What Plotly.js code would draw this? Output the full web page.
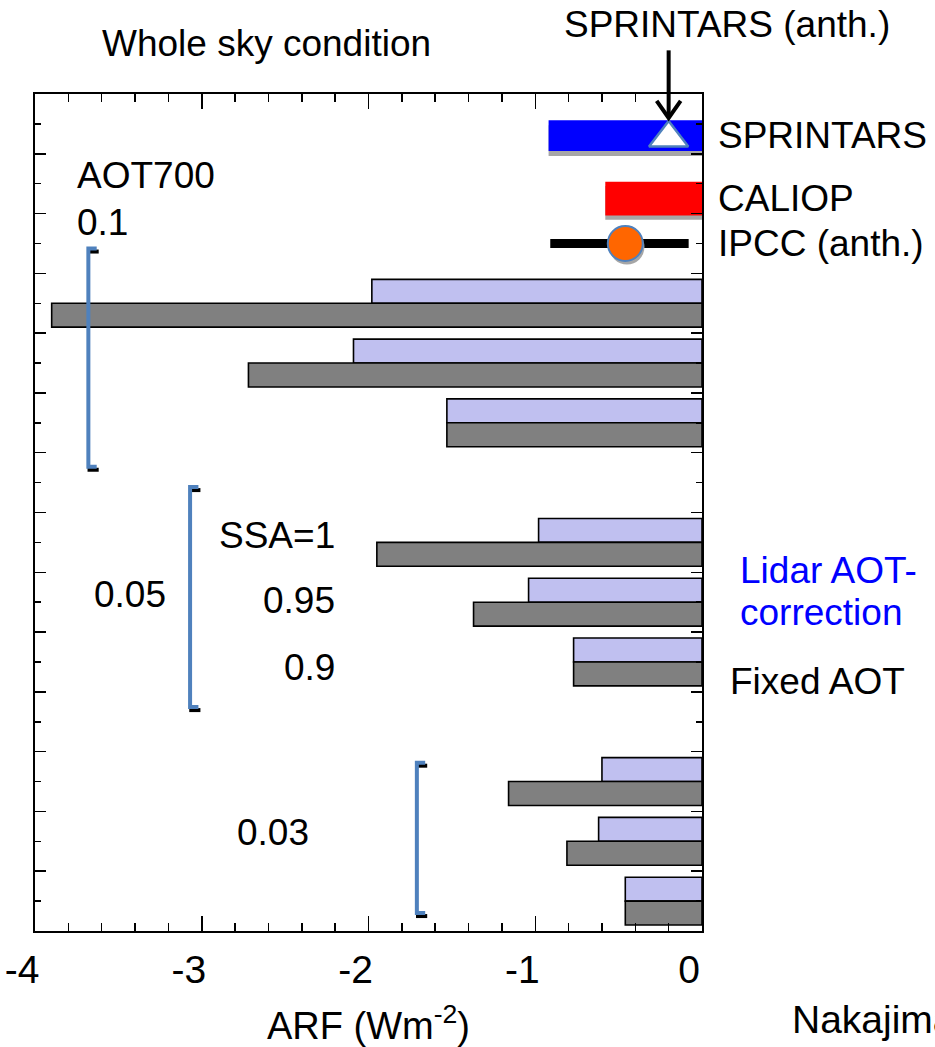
<!DOCTYPE html>
<html>
<head>
<meta charset="utf-8">
<script src="https://cdn.plot.ly/plotly-3.0.1.min.js"></script>
<style>
  html, body { margin: 0; padding: 0; background: #fff; }
  #chart { width: 935px; height: 1047px; }
</style>
</head>
<body>
<div id="chart"></div>
<script>
// Aerosol radiative forcing (ARF, W m-2), whole sky condition.
// Each case: pair of bars at a row position (lidar AOT-correction above, fixed AOT below).
const rowPos        = [21, 19, 17, 13, 11, 9, 5, 3, 1];
const lidarCorrARF  = [-1.98, -2.09, -1.53, -0.98, -1.04, -0.77, -0.60, -0.62, -0.46];
const fixedAotARF   = [-3.90, -2.72, -1.53, -1.95, -1.37, -0.77, -1.16, -0.81, -0.46];

// Reference estimates
const sprintarsLow = -0.92, sprintarsHigh = 0, sprintarsRow = 26.61;
const caliopLow = -0.58, caliopHigh = 0, caliopRow = 24.5;
const ipccLow = -0.91, ipccHigh = -0.08, ipccBest = -0.46, ipccRow = 23;
const sprintarsAnth = -0.2;

// Group brackets (AOT700 = 0.1, 0.05, 0.03)
const bracketX      = [-3.68, -3.07, -1.71];
const bracketTop    = [22.83, 14.85, 5.63];
const bracketBottom = [15.53, 7.49, 0.60];

const xTickVals = [-4, -3, -2, -1, 0];
const xTickText = ['-4', '-3', '-2', '-1', '0'];

const X_RANGE = [-4, 0], Y_RANGE = [0, 28];
const paperX = v => (v - X_RANGE[0]) / (X_RANGE[1] - X_RANGE[0]);
const paperY = v => (v - Y_RANGE[0]) / (Y_RANGE[1] - Y_RANGE[0]);

const FONT = 'Liberation Sans, Arial, Helvetica, sans-serif';
const BRACKET_BLUE = '#4f81bd';
const BAR_H = 0.8;

const traces = [];

// drop shadows behind the reference bars
traces.push({
  type: 'bar', orientation: 'h',
  x: [sprintarsLow - sprintarsHigh, caliopLow - caliopHigh],
  base: [sprintarsHigh, caliopHigh],
  y: [sprintarsRow - 0.17, caliopRow - 0.14],
  width: [1.03, 1.13], offset: [-0.515, -0.565],
  marker: { color: '#a6a6a6', line: { width: 0 } },
  hoverinfo: 'skip'
});
traces.push({
  type: 'bar', orientation: 'h',
  x: [sprintarsLow - sprintarsHigh],
  base: [sprintarsHigh],
  y: [sprintarsRow], width: [1.03], offset: [-0.515],
  marker: { color: '#0000ff', line: { width: 0 } }, name: 'SPRINTARS'
});
traces.push({
  type: 'bar', orientation: 'h',
  x: [caliopLow - caliopHigh],
  base: [caliopHigh],
  y: [caliopRow], width: [1.13], offset: [-0.565],
  marker: { color: '#ff0000', line: { width: 0 } }, name: 'CALIOP'
});

// case bars
traces.push({
  type: 'bar', orientation: 'h', x: lidarCorrARF, y: rowPos,
  width: BAR_H, offset: 0,
  marker: { color: '#c0c0f0', line: { color: '#000', width: 1.6 } },
  name: 'Lidar AOT-correction'
});
traces.push({
  type: 'bar', orientation: 'h', x: fixedAotARF, y: rowPos,
  width: BAR_H, offset: -BAR_H,
  marker: { color: '#808080', line: { color: '#000', width: 1.6 } },
  name: 'Fixed AOT'
});

// IPCC range and best estimate
traces.push({
  type: 'scatter', mode: 'lines', x: [ipccLow, ipccHigh], y: [ipccRow, ipccRow],
  line: { color: '#000', width: 9 }, hoverinfo: 'skip'
});
traces.push({
  type: 'scatter', mode: 'markers', x: [ipccBest + 0.01], y: [ipccRow - 0.12],
  marker: { size: 35, color: '#a6a6a6', line: { width: 0 } }, hoverinfo: 'skip'
});
traces.push({
  type: 'scatter', mode: 'markers', x: [ipccBest], y: [ipccRow],
  marker: { size: 35, color: '#ff6600', line: { color: BRACKET_BLUE, width: 2 } },
  name: 'IPCC (anth.)'
});

// SPRINTARS anthropogenic estimate
traces.push({
  type: 'scatter', mode: 'markers', x: [sprintarsAnth], y: [sprintarsRow - 0.08],
  marker: { symbol: 'triangle-up', size: 34, color: '#ffffff', line: { color: BRACKET_BLUE, width: 2.5 } },
  name: 'SPRINTARS (anth.)'
});

// brackets grouping the cases by AOT
const serif = 0.05;
bracketX.forEach((bx, i) => {
  const t = bracketTop[i], b = bracketBottom[i];
  traces.push({
    type: 'scatter', mode: 'lines',
    x: [bx - 0.005, bx + serif + 0.012, null, bx - 0.005, bx + serif + 0.012],
    y: [t - 0.1, t - 0.1, null, b - 0.1, b - 0.1],
    line: { color: '#000', width: 4 }, hoverinfo: 'skip'
  });
  traces.push({
    type: 'scatter', mode: 'lines',
    x: [bx + serif, bx, bx, bx + serif],
    y: [t, t, b, b],
    line: { color: BRACKET_BLUE, width: 4 }, hoverinfo: 'skip'
  });
});

const ax = paperX(sprintarsAnth);
const tipY = paperY(27.2);
const dxp = 12 / 667, dyp = 17 / 837;

const annotations = [
  { text: 'Whole sky condition', xref: 'paper', yref: 'paper', x: 0.347, y: 1.06, xanchor: 'center', font: { size: 37 } },
  { text: 'SPRINTARS (anth.)', xref: 'paper', yref: 'paper', x: 1.038, y: 1.083, xanchor: 'center', font: { size: 37 } },
  { text: 'SPRINTARS', xref: 'paper', yref: 'y', x: 1.021, y: sprintarsRow, xanchor: 'left', font: { size: 37 } },
  { text: 'CALIOP', xref: 'paper', yref: 'y', x: 1.021, y: caliopRow, xanchor: 'left', font: { size: 37 } },
  { text: 'IPCC (anth.)', xref: 'paper', yref: 'y', x: 1.021, y: ipccRow, xanchor: 'left', font: { size: 37 } },
  { text: 'AOT700', xref: 'x', yref: 'y', x: -3.76, y: 25.26, xanchor: 'left', font: { size: 37 } },
  { text: '0.1', xref: 'x', yref: 'y', x: -3.76, y: 23.7, xanchor: 'left', font: { size: 37 } },
  { text: '0.05', xref: 'x', yref: 'y', x: -3.66, y: 11.26, xanchor: 'left', font: { size: 37 } },
  { text: 'SSA=1', xref: 'x', yref: 'y', x: -2.19, y: 13.24, xanchor: 'right', font: { size: 37 } },
  { text: '0.95', xref: 'x', yref: 'y', x: -2.19, y: 11.07, xanchor: 'right', font: { size: 37 } },
  { text: '0.9', xref: 'x', yref: 'y', x: -2.19, y: 8.8, xanchor: 'right', font: { size: 37 } },
  { text: '0.03', xref: 'x', yref: 'y', x: -2.80, y: 3.28, xanchor: 'left', font: { size: 37 } },
  { text: 'Lidar AOT-', xref: 'paper', yref: 'y', x: 1.054, y: 12.07, xanchor: 'left', font: { size: 37, color: '#0000ff' } },
  { text: 'correction', xref: 'paper', yref: 'y', x: 1.054, y: 10.67, xanchor: 'left', font: { size: 37, color: '#0000ff' } },
  { text: 'Fixed AOT', xref: 'paper', yref: 'y', x: 1.039, y: 8.34, xanchor: 'left', font: { size: 37 } },
  { text: 'Nakajima', xref: 'paper', yref: 'paper', x: 1.132, y: -0.106, xanchor: 'left', font: { size: 39 } }
].map(a => Object.assign({ showarrow: false, yanchor: 'middle' }, a, {
  font: Object.assign({ family: FONT, color: '#000' }, a.font)
}));

const layout = {
  width: 935, height: 1047,
  margin: { l: 35, r: 233, t: 94, b: 116 },
  paper_bgcolor: '#ffffff', plot_bgcolor: '#ffffff',
  showlegend: false, barmode: 'overlay', hovermode: false,
  font: { family: FONT, color: '#000' },
  xaxis: {
    range: X_RANGE, tickmode: 'array', tickvals: xTickVals, ticktext: xTickText,
    ticks: 'inside', ticklen: 15, tickwidth: 1.5, tickcolor: '#000',
    minor: { dtick: 0.2, tick0: 0, ticks: 'inside', ticklen: 8, tickwidth: 1.5, tickcolor: '#000' },
    showline: true, linewidth: 2, linecolor: '#000', mirror: 'ticks',
    showgrid: false, zeroline: false,
    tickfont: { family: FONT, size: 39, color: '#000' },
    ticklabelshift: -13, ticklabelstandoff: 3, ticklabeloverflow: 'allow',
    title: { text: 'ARF (Wm<sup>-2</sup>)', font: { family: FONT, size: 38, color: '#000' }, standoff: 32 }
  },
  yaxis: {
    range: Y_RANGE, dtick: 2, tick0: 0,
    ticks: 'inside', ticklen: 11, tickwidth: 1.5, tickcolor: '#000',
    minor: { dtick: 1, tick0: 0, ticks: 'inside', ticklen: 6, tickwidth: 1.5, tickcolor: '#000' },
    showticklabels: false,
    showline: true, linewidth: 2, linecolor: '#000', mirror: 'ticks',
    showgrid: false, zeroline: false
  },
  annotations: annotations,
  shapes: [
    { type: 'line', xref: 'paper', yref: 'paper', x0: ax, x1: ax, y0: paperY(29.46), y1: tipY,
      line: { color: '#000', width: 4 } },
    { type: 'path', xref: 'paper', yref: 'paper',
      path: `M ${ax - dxp},${tipY + dyp} L ${ax},${tipY} L ${ax + dxp},${tipY + dyp}`,
      line: { color: '#000', width: 4 } }
  ]
};

Plotly.newPlot('chart', traces, layout, { staticPlot: true, displayModeBar: false });
</script>
</body>
</html>
